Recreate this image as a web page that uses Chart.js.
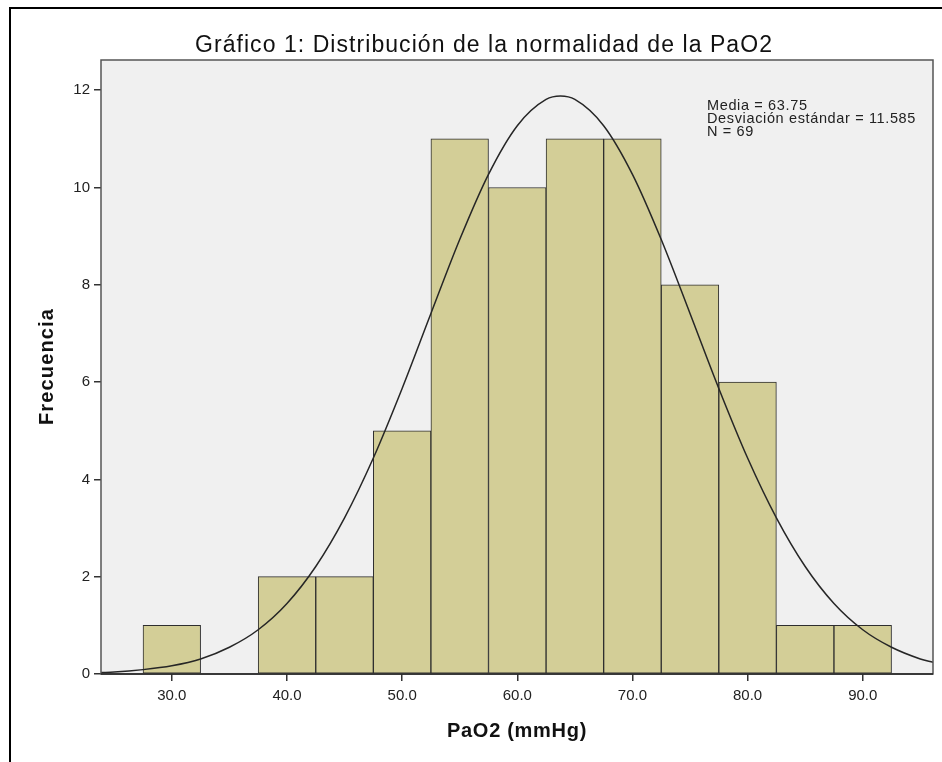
<!DOCTYPE html>
<html>
<head>
<meta charset="utf-8">
<script src="https://cdn.jsdelivr.net/npm/chart.js@4/dist/chart.umd.min.js"></script>
<style>
  html, body { margin: 0; padding: 0; background: #fff; }
  #wrap { width: 942px; height: 762px; }
</style>
</head>
<body>
<div id="wrap"><canvas id="histo" width="942" height="762"></canvas></div>
<script>
// Histogram bins (centres, width 5) and frequencies
const binCenters = [30, 35, 40, 45, 50, 55, 60, 65, 70, 75, 80, 85, 90];
const frequencies = [1, null, 2, 2, 5, 11, 10, 11, 11, 8, 6, 1, 1];

// Normal curve
const curveX = [23.85, 25, 27.5, 30, 32.5, 35, 37.5, 40, 42.5, 45, 47.5, 50, 52.5, 55, 57.5, 60,
                62.5, 63.75, 65, 67.5, 70, 72.5, 75, 77.5, 80, 82.5, 85, 87.5, 90, 92.5, 95, 96.1];
const curveY = [0.03, 0.04, 0.09, 0.17, 0.31, 0.55, 0.91, 1.45, 2.21, 3.21, 4.44, 5.87, 7.41, 8.93, 10.27, 11.27,
                11.81, 11.88, 11.81, 11.27, 10.27, 8.93, 7.41, 5.87, 4.44, 3.21, 2.21, 1.45, 0.91, 0.55, 0.31, 0.24];

// Tick labels
const xTickValues = [30, 40, 50, 60, 70, 80, 90];
const xTickLabels = ['30.0', '40.0', '50.0', '60.0', '70.0', '80.0', '90.0'];
const yTickValues = [0, 2, 4, 6, 8, 10, 12];
const yTickLabels = ['0', '2', '4', '6', '8', '10', '12'];

// Texts
const chartTitle = 'Gráfico 1: Distribución de la normalidad de la PaO2';
const xTitle = 'PaO2 (mmHg)';
const yTitle = 'Frecuencia';
const statsLines = ['Media = 63.75', 'Desviación estándar = 11.585', 'N = 69'];

const FONT = "Arial, 'Liberation Sans', sans-serif";

// draw a text stretched (via letter spacing) to a given width
function fittedText(ctx, text, x, y, font, width) {
    ctx.font = font;
    ctx.letterSpacing = '0px';
    const w = ctx.measureText(text).width;
    const sp = Math.max(0, (width - w) / text.length);
    ctx.letterSpacing = sp + 'px';
    ctx.fillText(text, x, y);
    ctx.letterSpacing = '0px';
    return sp;
}

const decorPlugin = {
    id: 'decor',
    beforeDraw(chart) {
        const ctx = chart.ctx;
        const a = chart.chartArea;
        ctx.save();
        ctx.fillStyle = '#ffffff';
        ctx.fillRect(0, 0, chart.width, chart.height);
        // outer frame (top and left)
        ctx.strokeStyle = '#000';
        ctx.lineWidth = 2;
        ctx.beginPath();
        ctx.moveTo(10, chart.height + 2);
        ctx.lineTo(10, 8);
        ctx.lineTo(chart.width + 2, 8);
        ctx.stroke();
        // plot background
        ctx.fillStyle = '#f0f0f0';
        ctx.fillRect(a.left, a.top, a.right - a.left, a.bottom - a.top);
        ctx.restore();
    },
    afterDraw(chart) {
        const ctx = chart.ctx;
        const a = chart.chartArea;
        ctx.save();
        // plot border
        ctx.strokeStyle = '#555';
        ctx.lineWidth = 1.5;
        ctx.strokeRect(a.left, a.top, a.right - a.left, a.bottom - a.top);
        ctx.strokeStyle = '#222';
        ctx.beginPath();
        ctx.moveTo(a.left, a.bottom);
        ctx.lineTo(a.right, a.bottom);
        ctx.stroke();

        ctx.fillStyle = '#111';
        ctx.textBaseline = 'alphabetic';
        ctx.textAlign = 'left';
        // title
        fittedText(ctx, chartTitle, 195, 52, '23px ' + FONT, 578);
        // axis titles
        fittedText(ctx, xTitle, 447, 737, 'bold 20px ' + FONT, 140);
        ctx.save();
        ctx.translate(53, 425);
        ctx.rotate(-Math.PI / 2);
        fittedText(ctx, yTitle, 0, 0, 'bold 20px ' + FONT, 117);
        ctx.restore();

        // stats box text
        ctx.fillStyle = '#222';
        ctx.font = '14.5px ' + FONT;
        ctx.letterSpacing = '0px';
        const w = ctx.measureText(statsLines[1]).width;
        const sp = Math.max(0, (209 - w) / statsLines[1].length);
        ctx.letterSpacing = sp + 'px';
        statsLines.forEach((t, i) => ctx.fillText(t, 707, 110 + i * 13));
        ctx.letterSpacing = '0px';
        ctx.restore();
    }
};

const ctx = document.getElementById('histo');

const histoChart = new Chart(ctx, {
    data: {
        datasets: [{
            type: 'line',
            label: 'Normal',
            data: curveX.map((x, i) => ({ x: x, y: curveY[i] })),
            borderColor: '#262626',
            borderWidth: 1.5,
            pointRadius: 0,
            fill: false,
            cubicInterpolationMode: 'monotone',
            order: 0
        }, {
            type: 'bar',
            label: 'Frecuencia',
            data: binCenters.map((x, i) => ({ x: x, y: frequencies[i] })),
            backgroundColor: '#d3ce97',
            borderColor: '#2e2e2e',
            borderWidth: 1,
            borderSkipped: false,
            barPercentage: 1,
            categoryPercentage: 1,
            order: 1
        }]
    },
    options: {
        responsive: false,
        animation: false,
        devicePixelRatio: 1,
        layout: { padding: { top: 60, right: 9, left: 0, bottom: 0 } },
        plugins: {
            legend: { display: false },
            tooltip: { enabled: false },
            title: { display: false }
        },
        scales: {
            x: {
                type: 'linear',
                min: 23.85,
                max: 96.1,
                offset: false,
                afterFit: s => { s.height = 88; },
                afterBuildTicks: s => { s.ticks = xTickValues.map(v => ({ value: v })); },
                ticks: {
                    autoSkip: false,
                    maxRotation: 0,
                    padding: 6,
                    color: '#222',
                    font: { family: FONT, size: 15 },
                    callback: (v) => xTickLabels[xTickValues.indexOf(v)]
                },
                grid: { display: true, offset: false, drawOnChartArea: false, drawTicks: true, tickLength: 7, color: '#333', lineWidth: 1.5 },
                border: { display: false }
            },
            y: {
                min: 0,
                max: 12.62,
                afterFit: s => { s.width = 101; },
                afterBuildTicks: s => { s.ticks = yTickValues.map(v => ({ value: v })); },
                ticks: {
                    autoSkip: false,
                    padding: 4,
                    color: '#222',
                    font: { family: FONT, size: 15 },
                    callback: (v) => yTickLabels[yTickValues.indexOf(v)]
                },
                grid: { display: true, drawOnChartArea: false, drawTicks: true, tickLength: 7, color: '#333', lineWidth: 1.5 },
                border: { display: false }
            }
        }
    },
    plugins: [decorPlugin]
});
</script>
</body>
</html>
